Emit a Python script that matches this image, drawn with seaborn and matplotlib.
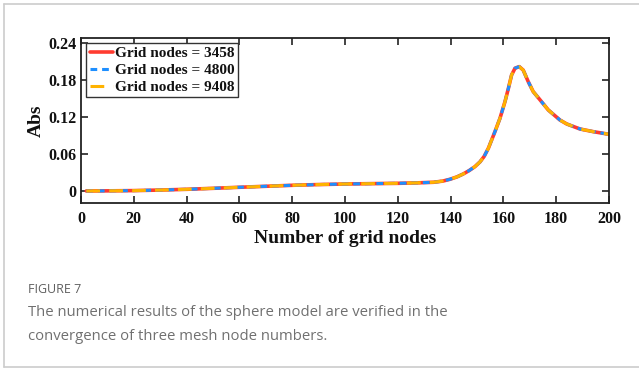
import matplotlib
matplotlib.use("Agg")
import matplotlib.pyplot as plt
import seaborn as sns
import pandas as pd
from matplotlib.lines import Line2D

# Absorption vs. number of grid nodes for three mesh resolutions
x_nodes = [2, 10, 20, 30, 40, 50, 60, 70, 80, 90, 100, 110, 120, 127, 133.5,
           137, 139.8, 142.5, 144.8, 147, 149.2, 151.1, 152.7, 154.3, 156.8,
           158.7, 160.6, 161.9, 163.1, 164.4, 166, 167.5, 169.4, 171.3, 173.9,
           177, 181.4, 184, 189, 194, 200]
abs_3458 = [0.0, 0.0002, 0.0006, 0.0015, 0.0027, 0.0043, 0.006, 0.0076, 0.0092,
            0.0104, 0.0113, 0.0119, 0.0124, 0.0131, 0.0141,
            0.016, 0.019, 0.023, 0.0276, 0.033, 0.0394, 0.047, 0.056, 0.0692, 0.0962,
            0.1178, 0.1448, 0.1665, 0.188, 0.199, 0.2016, 0.196, 0.1773, 0.161, 0.1476,
            0.1313, 0.1151, 0.1086, 0.1005, 0.0962, 0.0919]
abs_4800 = list(abs_3458)
abs_9408 = list(abs_3458)
series_labels = ["Grid nodes = 3458", "Grid nodes = 4800", "Grid nodes = 9408"]

x_ticks = [0, 20, 40, 60, 80, 100, 120, 140, 160, 180, 200]
y_ticks = [0, 0.06, 0.12, 0.18, 0.24]
y_ticklabels = ["0", "0.06", "0.12", "0.18", "0.24"]

sns.set_theme(style="white")
plt.rcParams["font.family"] = ["Liberation Serif", "DejaVu Serif"]

fig = plt.figure(figsize=(6.39, 3.69), dpi=100)
ax = fig.add_axes([81 / 639, 1 - 203 / 369, 528 / 639, 165 / 369])

colors = ["#FF3B30", "#1E8FFF", "#FFB300"]
styles = [dict(linestyle="-", linewidth=2.6),
          dict(linestyle=(0, (2.2, 1.6)), linewidth=2.2),
          dict(linestyle=(0, (4.5, 3.0)), linewidth=2.2)]

for vals, lab, col, st in zip([abs_3458, abs_4800, abs_9408], series_labels, colors, styles):
    df = pd.DataFrame({"x": x_nodes, "y": vals})
    sns.lineplot(data=df, x="x", y="y", ax=ax, color=col, label=lab, **st)

ax.set_xlim(0, 200)
ax.set_ylim(-0.0195, 0.248)
ax.set_xticks(x_ticks)
ax.set_xticklabels([str(t) for t in x_ticks])
ax.set_yticks(y_ticks)
ax.set_yticklabels(y_ticklabels)

for lbl in ax.get_xticklabels() + ax.get_yticklabels():
    lbl.set_fontweight("bold")
    lbl.set_fontsize(11.5)
    lbl.set_color("#111111")

ax.tick_params(direction="in", length=5, width=1.2, top=True, right=True,
               bottom=True, left=True, colors="#222222")
ax.tick_params(axis="x", labelcolor="#111111", pad=6)
ax.tick_params(axis="y", labelcolor="#111111", pad=3)
for sp in ax.spines.values():
    sp.set_visible(True)
    sp.set_color("#222222")
    sp.set_linewidth(1.3)

ax.set_xlabel("Number of grid nodes", fontsize=14, fontweight="bold",
              color="#111111", labelpad=2)
ax.set_ylabel("Abs", fontsize=14, fontweight="bold", color="#111111", labelpad=3)
ax.grid(False)

handles = [Line2D([], [], color=c, **s) for c, s in zip(colors, styles)]
leg = ax.legend(handles, series_labels, loc="upper left", bbox_to_anchor=(0.0, 1.0),
                frameon=True, fancybox=False, framealpha=1, edgecolor="#333333",
                prop={"weight": "bold", "size": 11}, handlelength=1.5,
                handletextpad=0.15, borderpad=0.22, labelspacing=0.2,
                borderaxespad=0.35)
leg.get_frame().set_linewidth(1.0)
for t in leg.get_texts():
    t.set_color("#111111")

# caption block
cap_font = ["Open Sans", "DejaVu Sans"]
fig.text(28 / 639, 1 - 293 / 369, "FIGURE 7", fontsize=9, color="#5f5f5f",
         family=cap_font, va="baseline")
fig.text(28 / 639, 1 - 316 / 369,
         "The numerical results of the sphere model are verified in the",
         fontsize=10.7, color="#707070", family=cap_font, va="baseline")
fig.text(28 / 639, 1 - 340 / 369,
         "convergence of three mesh node numbers.",
         fontsize=10.7, color="#707070", family=cap_font, va="baseline")

# light frame around the panel
frame_col = "#CCCCCC"
fig.add_artist(Line2D([4 / 639, 4 / 639], [1 - 4 / 369, 1 - 367 / 369],
                      transform=fig.transFigure, color=frame_col, linewidth=1.2))
fig.add_artist(Line2D([4 / 639, 1], [1 - 4 / 369, 1 - 4 / 369],
                      transform=fig.transFigure, color=frame_col, linewidth=1.2))
fig.add_artist(Line2D([4 / 639, 1], [1 - 367 / 369, 1 - 367 / 369],
                      transform=fig.transFigure, color=frame_col, linewidth=1.2))

fig.savefig("out.png", dpi=100)
